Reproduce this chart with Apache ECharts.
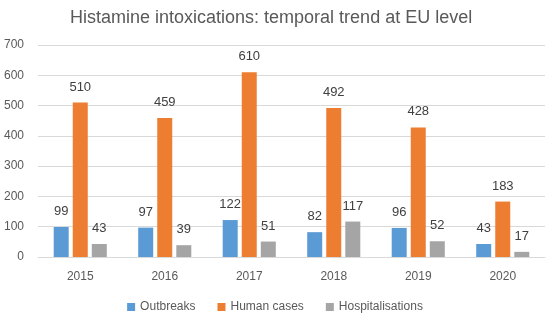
<!DOCTYPE html>
<html><head><meta charset="utf-8">
<script src="https://cdn.jsdelivr.net/npm/echarts@6/dist/echarts.min.js"></script>
<style>html,body{margin:0;padding:0;background:#fff}#c{width:550px;height:322px}</style>
</head><body><div id="c"></div>
<script>
const years = ['2015','2016','2017','2018','2019','2020'];
const outbreaks = [99, 97, 122, 82, 96, 43];
const humanCases = [510, 459, 610, 492, 428, 183];
const hospitalisations = [43, 39, 51, 117, 52, 17];
const yTicks = {min: 0, max: 700, interval: 100};

const font = 'Liberation Sans, Arial, sans-serif';
const lbl = {show: true, position: 'top', color: '#404040', fontSize: 13, fontFamily: font, distance: 9};
const chart = echarts.init(document.getElementById('c'));
chart.setOption({
  animation: false,
  title: {text: 'Histamine intoxications: temporal trend at EU level', left: 65, top: 4,
    textStyle: {fontSize: 18, fontWeight: 'normal', color: '#595959', fontFamily: font}},
  legend: {bottom: 4, left: 'center', itemWidth: 8, itemHeight: 8, itemGap: 22, icon: 'rect',
    textStyle: {color: '#595959', fontSize: 12, fontFamily: font}},
  grid: {left: 38, right: 5, top: 45, bottom: 65},
  xAxis: {type: 'category', data: years,
    axisLine: {lineStyle: {color: '#D9D9D9'}}, axisTick: {show: false},
    axisLabel: {color: '#595959', fontSize: 12, fontFamily: font, margin: 14}},
  yAxis: {type: 'value', min: yTicks.min, max: yTicks.max, interval: yTicks.interval,
    axisLine: {show: false}, axisTick: {show: false},
    splitLine: {lineStyle: {color: '#D9D9D9'}},
    axisLabel: {color: '#595959', fontSize: 12, fontFamily: font, margin: 14}},
  series: [
    {name: 'Outbreaks', type: 'bar', data: outbreaks, barWidth: 15, barGap: '27%', itemStyle: {color: '#5B9BD5'}, label: lbl},
    {name: 'Human cases', type: 'bar', data: humanCases, barWidth: 15, barGap: '27%', itemStyle: {color: '#ED7D31'}, label: lbl},
    {name: 'Hospitalisations', type: 'bar', data: hospitalisations, barWidth: 15, barGap: '27%', itemStyle: {color: '#A5A5A5'}, label: lbl}
  ]
});
</script></body></html>
